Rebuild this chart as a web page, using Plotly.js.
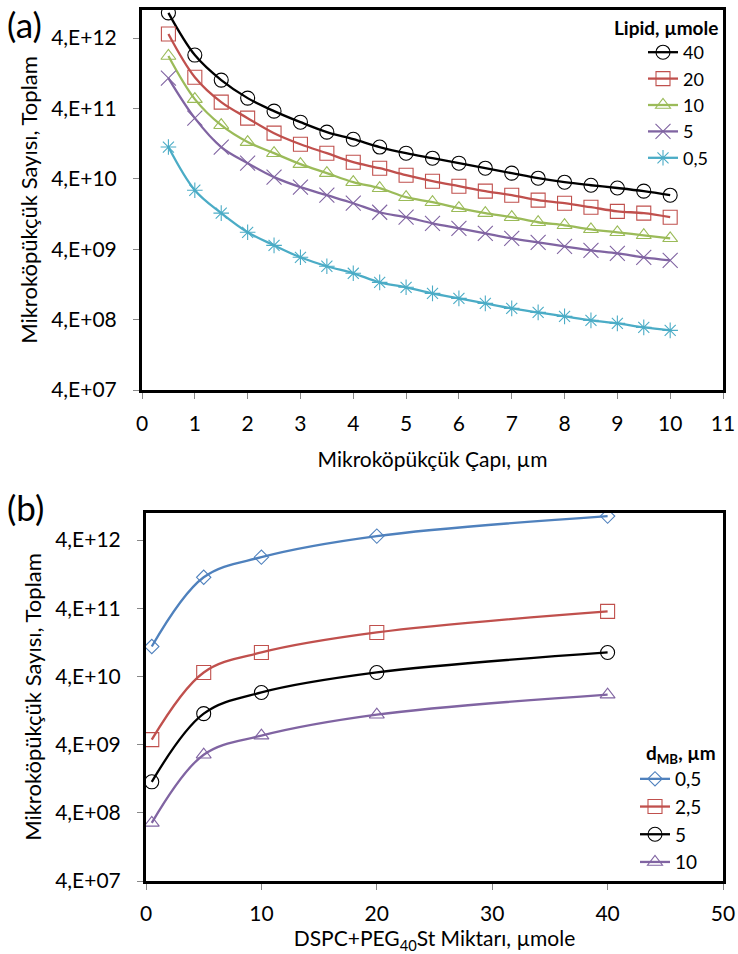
<!DOCTYPE html>
<html>
<head>
<meta charset="utf-8">
<script src="https://cdn.plot.ly/plotly-3.0.1.min.js"></script>
<style>html,body{margin:0;padding:0;background:#fff;}#chart{width:738px;height:954px;}</style>
</head>
<body>
<div id="chart"></div>
<script>
// Panel (a): microbubble diameter (µm) vs total count, by lipid amount
const diameters = [0.5,1,1.5,2,2.5,3,3.5,4,4.5,5,5.5,6,6.5,7,7.5,8,8.5,9,9.5,10];
const lipid40 = [9.1e12,2.29e12,1.01e12,5.6e11,3.66e11,2.55e11,1.84e11,1.46e11,1.13e11,9.25e10,7.85e10,6.67e10,5.66e10,4.81e10,4.08e10,3.58e10,3.24e10,2.96e10,2.67e10,2.34e10];
const lipid20 = [4.56e12,1.11e12,4.92e11,2.91e11,1.78e11,1.24e11,9.25e10,6.89e10,5.66e10,4.50e10,3.70e10,3.14e10,2.67e10,2.34e10,1.99e10,1.80e10,1.58e10,1.38e10,1.30e10,1.14e10];
const lipid10 = [2.22e12,5.42e11,2.31e11,1.33e11,9.25e10,6.46e10,4.81e10,3.58e10,2.94e10,2.19e10,1.86e10,1.53e10,1.30e10,1.14e10,9.66e9,8.75e9,7.67e9,6.95e9,6.31e9,5.71e9];
const lipid5 = [1.08e12,2.91e11,1.13e11,6.67e10,4.22e10,3.04e10,2.34e10,1.80e10,1.34e10,1.14e10,9.33e9,7.93e9,6.73e9,5.71e9,5.01e9,4.40e9,3.85e9,3.50e9,3.07e9,2.78e9];
const lipid05 = [1.13e11,2.75e10,1.30e10,6.95e9,4.54e9,3.07e9,2.29e9,1.82e9,1.35e9,1.15e9,9.44e8,8.02e8,6.79e8,5.77e8,5.06e8,4.45e8,3.90e8,3.53e8,3.10e8,2.81e8];
const lipidNames = ['40','20','10','5','0,5'];

// Panel (b): DSPC+PEG40St amount (µmole) vs total count, by diameter
const lipidAmounts = [0.5,5,10,20,40];
const dmb05 = [1.10e11,1.14e12,2.25e12,4.58e12,9.0e12];
const dmb25 = [4.74e9,4.58e10,9.0e10,1.77e11,3.61e11];
const dmb5 = [1.14e9,1.14e10,2.33e10,4.58e10,9.0e10];
const dmb10 = [2.85e8,2.85e9,5.42e9,1.10e10,2.17e10];
const dmbNames = ['0,5','2,5','5','10'];

const yTickVals = [4e7,4e8,4e9,4e10,4e11,4e12];
const yTickText = ['4,E+07','4,E+08','4,E+09','4,E+10','4,E+11','4,E+12'];

const FONT = 'Lato, Carlito, Calibri, "DejaVu Sans", sans-serif';
const W = 738, H = 954;
const px = v => v / W;
const py = v => 1 - v / H;

function tr(x, y, name, color, symbol, size, xa, ya, leg) {
  return {
    x: x, y: y, name: name, type: 'scatter', mode: 'lines+markers',
    xaxis: xa, yaxis: ya, legend: leg,
    line: {color: color, width: 2.3, shape: 'spline', smoothing: 1},
    marker: {symbol: symbol, size: size, color: color, line: {color: color, width: 1.1}}
  };
}

const data = [
  tr(diameters, lipid40, lipidNames[0], '#000000', 'circle-open', 14, 'x', 'y', 'legend'),
  tr(diameters, lipid20, lipidNames[1], '#C0504D', 'square-open', 14, 'x', 'y', 'legend'),
  tr(diameters, lipid10, lipidNames[2], '#9BBB59', 'triangle-up-open', 13, 'x', 'y', 'legend'),
  tr(diameters, lipid5, lipidNames[3], '#8064A2', 'x-thin-open', 15, 'x', 'y', 'legend'),
  tr(diameters, lipid05, lipidNames[4], '#4BACC6', 'asterisk-open', 13, 'x', 'y', 'legend'),
  tr(lipidAmounts, dmb05, dmbNames[0], '#4F81BD', 'diamond-open', 11, 'x2', 'y2', 'legend2'),
  tr(lipidAmounts, dmb25, dmbNames[1], '#C0504D', 'square-open', 14, 'x2', 'y2', 'legend2'),
  tr(lipidAmounts, dmb5, dmbNames[2], '#000000', 'circle-open', 14, 'x2', 'y2', 'legend2'),
  tr(lipidAmounts, dmb10, dmbNames[3], '#8064A2', 'triangle-up-open', 13, 'x2', 'y2', 'legend2')
];

const axisCommon = {
  showline: true, linecolor: '#000', linewidth: 3, mirror: true,
  ticks: 'outside', ticklen: 6, tickcolor: '#888', tickwidth: 1,
  showgrid: false, zeroline: false, automargin: false,
  tickfont: {family: FONT, size: 21, color: '#000'}
};

const layout = {
  width: W, height: H,
  margin: {l: 0, r: 0, t: 0, b: 0},
  paper_bgcolor: '#fff', plot_bgcolor: '#fff',
  font: {family: FONT, color: '#000'},
  showlegend: true,
  xaxis: Object.assign({}, axisCommon, {
    domain: [px(142), px(723)], anchor: 'y', range: [0, 11], dtick: 1, tick0: 0,
    ticklabelstandoff: 7,
    title: {text: 'Mikroköpükçük Çapı, µm', font: {family: FONT, size: 21, color: '#000'}, standoff: 19}
  }),
  yaxis: Object.assign({}, axisCommon, {
    domain: [py(390), py(10)], anchor: 'x', type: 'log', range: [Math.log10(4e7), 13],
    tickvals: yTickVals, ticktext: yTickText, ticklabelstandoff: 12,
    title: {text: 'Mikroköpükçük Sayısı, Toplam', font: {family: FONT, size: 22, color: '#000'}, standoff: 8}
  }),
  xaxis2: Object.assign({}, axisCommon, {
    domain: [px(146), px(723)], anchor: 'y2', range: [0, 50], dtick: 10, tick0: 0,
    ticklabelstandoff: 6,
    title: {text: 'DSPC+PEG<sub>40</sub>St Miktarı, µmole', font: {family: FONT, size: 21, color: '#000'}, standoff: 1}
  }),
  yaxis2: Object.assign({}, axisCommon, {
    domain: [py(881), py(513)], anchor: 'x2', type: 'log', range: [Math.log10(4e7), 13],
    tickvals: yTickVals, ticktext: yTickText, ticklabelstandoff: 12,
    title: {text: 'Mikroköpükçük Sayısı, Toplam', font: {family: FONT, size: 22, color: '#000'}, standoff: 8}
  }),
  legend: {
    x: px(643), y: py(34), xanchor: 'left', yanchor: 'top',
    bgcolor: 'rgba(0,0,0,0)', borderwidth: 0,
    font: {family: FONT, size: 18, color: '#000'},
    tracegroupgap: 0, itemwidth: 30
  },
  legend2: {
    x: px(635), y: py(760), xanchor: 'left', yanchor: 'top',
    bgcolor: 'rgba(0,0,0,0)', borderwidth: 0,
    font: {family: FONT, size: 19, color: '#000'},
    tracegroupgap: 0, itemwidth: 30
  },
  annotations: [
    {text: '(a)', x: px(5), y: py(1), xref: 'paper', yref: 'paper', xanchor: 'left', yanchor: 'top', showarrow: false, font: {family: FONT, size: 35, color: '#000'}},
    {text: '(b)', x: px(5), y: py(484), xref: 'paper', yref: 'paper', xanchor: 'left', yanchor: 'top', showarrow: false, font: {family: FONT, size: 35, color: '#000'}},
    {text: '<b>Lipid, µmole</b>', x: px(720), y: py(28), xref: 'paper', yref: 'paper', xanchor: 'right', yanchor: 'middle', showarrow: false, font: {family: FONT, size: 19, color: '#000'}},
    {text: '<b>d<sub>MB</sub>, µm</b>', x: px(644), y: py(754), xref: 'paper', yref: 'paper', xanchor: 'left', yanchor: 'middle', showarrow: false, font: {family: FONT, size: 19, color: '#000'}}
  ]
};

Plotly.newPlot('chart', data, layout, {displayModeBar: false, staticPlot: true});
</script>
</body>
</html>
